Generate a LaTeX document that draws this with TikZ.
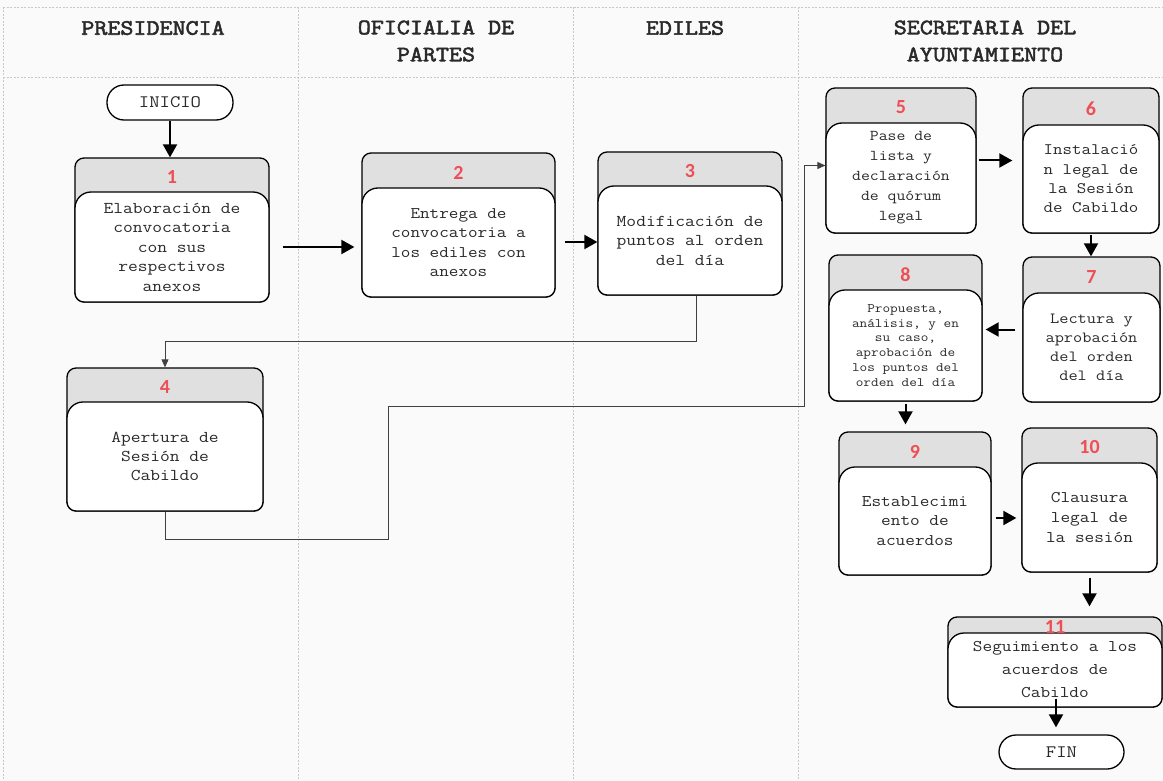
\documentclass[tikz,border=0pt]{standalone}
\usepackage{fontspec}
\setmainfont{Latin Modern Mono}[FakeStretch=1.15]
\newfontfamily\hdrfont{Latin Modern Mono}[FakeStretch=1.15, FakeBold=2.5]
\newfontfamily\numfont{Carlito}
\usetikzlibrary{arrows.meta,calc}
\definecolor{hdrgray}{HTML}{E0E0E0}
\definecolor{numred}{HTML}{EE4F55}
\definecolor{lanegray}{HTML}{C8C8C8}
\definecolor{bg}{HTML}{FBFAFB}
\definecolor{txt}{HTML}{2A2A2A}
\tikzset{
  outerbox/.style={draw=black, line width=1.3pt, fill=hdrgray, rounded corners=9pt, inner sep=0pt},
  innerbox/.style={draw=black, line width=1.3pt, fill=white},
  numlabel/.style={font=\numfont\bfseries\fontsize{20}{20}\selectfont, text=numred, inner sep=0pt},
  bodytext/.style={align=center, inner sep=0pt, text=txt},
  terminal/.style={draw=black, line width=1.3pt, rounded corners=17pt, fill=white, text=txt, font=\fontsize{17.5}{20}\selectfont, inner sep=0pt},
  arr/.style={line width=2pt, -{Triangle[length=13pt,width=14pt]}},
  thinarr/.style={line width=0.8pt, draw=black!75, -{Triangle[length=8pt,width=7pt]}},
  lane/.style={draw=lanegray, line width=0.6pt, dash pattern=on 2pt off 1.5pt},
  header/.style={font=\hdrfont\fontsize{22}{27}\selectfont, text=txt, align=center, inner sep=0pt},
}
% #1 name, #2 x1, #3 y1, #4 x2, #5 y2, #6 y of inner top, #7 number, #8 font, #9 text
\newcommand\procbox[9]{%
  \pgfmathsetmacro\pbcx{(#2+#4)/2}%
  \pgfmathsetmacro\pbcy{(#3+#5)/2}%
  \pgfmathsetmacro\pbw{#4-#2}%
  \pgfmathsetmacro\pbh{#5-#3}%
  \pgfmathsetmacro\pbmid{(#6+#5)/2}%
  \pgfmathsetmacro\pbnum{(#3+#6)/2+2}%
  \node[outerbox, minimum width=\pbw pt, minimum height=\pbh pt] (#1) at (\pbcx,\pbcy) {};
  \draw[innerbox] (#2,\pbmid) [rounded corners=16pt] -- (#2,#6) -- (#4,#6) -- (#4,\pbmid) [rounded corners=9pt] -- (#4,#5) -- (#2,#5) -- cycle;
  \node[numlabel] (#1n) at (\pbcx,\pbnum) {#7};
  \node[bodytext, font=#8] (#1t) at (\pbcx,\pbmid) {#9};
}
\begin{document}
\begin{tikzpicture}[x=1pt,y=-1pt]
\fill[bg] (0,0) rectangle (1163,781);
\useasboundingbox (0,0) rectangle (1163,781);
% lanes
\draw[lane] (3,7) -- (1163,7);
\draw[lane] (3,77) -- (1163,77);
\draw[lane] (3,7) -- (3,781);
\draw[lane] (298,7) -- (298,781);
\draw[lane] (573,7) -- (573,781);
\draw[lane] (798,7) -- (798,781);
% headers
\node[header] (h1) at (153,28) {PRESIDENCIA};
\node[header] (h2) at (436,41) {OFICIALIA DE\\PARTES};
\node[header] (h3) at (685,28) {EDILES};
\node[header] (h4) at (985,41) {SECRETARIA DEL\\AYUNTAMIENTO};
% terminals
\node[terminal, minimum width=126pt, minimum height=35pt] (ini) at (170,102.5) {INICIO};
\node[terminal, minimum width=125pt, minimum height=34pt] (fin) at (1061.5,752) {FIN};
% boxes
\procbox{b1}{75}{158}{269}{302}{192}{1}{\fontsize{16.5}{19.5}\selectfont}{Elaboración de\\convocatoria\\con sus\\respectivos\\anexos}
\procbox{b2}{362}{153}{555}{297}{188}{2}{\fontsize{16.2}{19.5}\selectfont}{Entrega de\\convocatoria a\\los ediles con\\anexos}
\procbox{b3}{598}{152}{782}{295}{186}{3}{\fontsize{16.5}{19.5}\selectfont}{Modificación de\\puntos al orden\\del día}
\procbox{b4}{67}{368}{263}{511}{402}{4}{\fontsize{16.5}{19.3}\selectfont}{Apertura de\\Sesión de\\Cabildo}
\procbox{b5}{826}{88}{976}{233}{123}{5}{\fontsize{15}{20}\selectfont}{Pase de\\lista y\\declaración\\de quórum\\legal}
\procbox{b6}{1023}{88}{1159}{233}{125}{6}{\fontsize{16}{19.3}\selectfont}{Instalació\\n legal de\\la Sesión\\de Cabildo}
\procbox{b7}{1023}{257}{1160}{402}{293}{7}{\fontsize{15.5}{18.8}\selectfont}{Lectura y\\aprobación\\del orden\\del día}
\procbox{b8}{829}{255}{982}{401}{290}{8}{\fontsize{12.9}{14.9}\selectfont}{Propuesta,\\análisis, y en\\su caso,\\aprobación de\\los puntos del\\orden del día}
\procbox{b9}{839}{432}{991}{575}{467}{9}{\fontsize{16.3}{19.5}\selectfont}{Establecimi\\ento de\\acuerdos}
\procbox{b10}{1022}{428}{1157}{572}{463}{10}{\fontsize{16.3}{20}\selectfont}{Clausura\\legal de\\la sesión}
\procbox{b11}{948}{617}{1162}{707}{633}{11}{\fontsize{16.3}{23}\selectfont}{Seguimiento a los\\acuerdos de\\Cabildo}
% thick arrows
\draw[arr] (ini.south) -- (ini.south |- b1.north);
\draw[arr, shorten <=13pt, shorten >=7pt] ([yshift=-17pt]b1.east) -- ([yshift=-17pt]b1.east -| b2.west);
\draw[arr, shorten <=9pt, shorten >=0pt] ([yshift=-17pt]b2.east) -- ([yshift=-17pt]b2.east -| b3.west);
\draw[arr, shorten <=2pt, shorten >=10pt] (b5.east) -- (b5.east -| b6.west);
\draw[arr, shorten <=1pt, shorten >=0pt] (b6.south) -- (b6.south |- b7.north);
\draw[arr, shorten <=7pt, shorten >=3pt] (b7.west) -- (b7.west -| b8.east);
\draw[arr, shorten <=2pt, shorten >=7pt] (b8.south) -- (b8.south |- b9.north);
\draw[arr, shorten <=4pt, shorten >=5pt] ([yshift=-14.5pt]b9.east) -- ([yshift=-14.5pt]b9.east -| b10.west);
\draw[arr, shorten <=5pt, shorten >=10pt] (b10.south) -- (b10.south |- b11.north);
\draw[arr, shorten <=-9pt, shorten >=7pt] ([xshift=1pt]b11.south) -- ([xshift=1pt]b11.south |- fin.north);
% thin connectors
\coordinate (k1) at (388,539);
\coordinate (k2) at (804,406);
\draw[thinarr] ([xshift=6pt]b3.south) -- ++(0,46) -| (b4.north);
\draw[thinarr] (b4.south) |- (k1) |- (k2) |- ([yshift=-5pt]b5.west);
\end{tikzpicture}
\end{document}
